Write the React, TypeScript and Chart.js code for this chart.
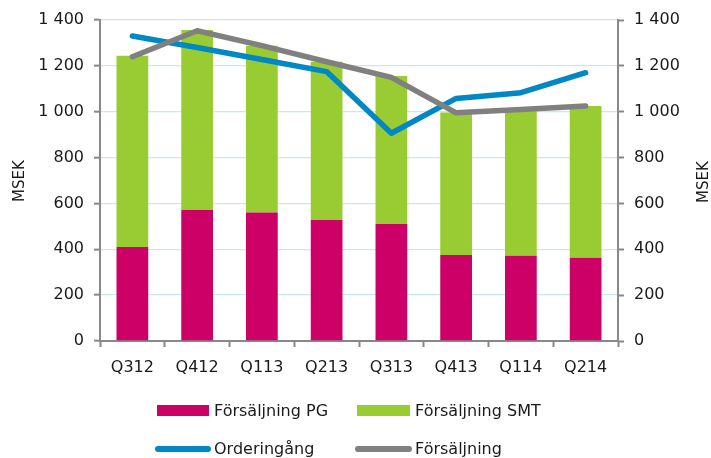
import React, { useEffect, useRef } from "react";
import { Chart, registerables } from "chart.js";

Chart.register(...registerables);

const categories = ["Q312", "Q412", "Q113", "Q213", "Q313", "Q413", "Q114", "Q214"];
const salesPG = [410, 571, 560, 528, 510, 375, 372, 363];
const salesSMT = [834, 785, 728, 690, 646, 622, 638, 662];
const orderIntake = [1330, 1280, 1228, 1175, 906, 1058, 1083, 1170];
const salesTotal = [1240, 1353, 1288, 1218, 1150, 995, 1010, 1025];

const FONT = "'DejaVu Sans', sans-serif";
const C_PG = "#cc0066";
const C_SMT = "#99cc33";
const C_ORDER = "#0088c4";
const C_SALES = "#808080";
const AXIS = "#888888";
const GRID = "#c8e8f6";

const fmt = (v: number) => {
  const s = String(Math.round(v));
  return s.length > 3 ? s.slice(0, s.length - 3) + " " + s.slice(-3) : s;
};

export default function App() {
  const ref = useRef<HTMLCanvasElement | null>(null);

  useEffect(() => {
    if (!ref.current) return;
    const chart = new Chart(ref.current, {
      type: "bar",
      data: {
        labels: categories,
        datasets: [
          {
            type: "line",
            label: "Orderingång",
            data: orderIntake,
            borderColor: C_ORDER,
            backgroundColor: C_ORDER,
            borderWidth: 5.5,
            pointRadius: 0,
            borderCapStyle: "round",
            borderJoinStyle: "round",
            tension: 0,
            yAxisID: "y2",
            order: 1,
          } as any,
          {
            type: "line",
            label: "Försäljning",
            data: salesTotal,
            borderColor: C_SALES,
            backgroundColor: C_SALES,
            borderWidth: 5.5,
            pointRadius: 0,
            borderCapStyle: "round",
            borderJoinStyle: "round",
            tension: 0,
            yAxisID: "y2",
            order: 0,
          } as any,
          {
            type: "bar",
            label: "Försäljning PG",
            data: salesPG,
            backgroundColor: C_PG,
            stack: "s",
            barPercentage: 0.49,
            categoryPercentage: 1,
            yAxisID: "y",
            order: 2,
          },
          {
            type: "bar",
            label: "Försäljning SMT",
            data: salesSMT,
            backgroundColor: C_SMT,
            stack: "s",
            barPercentage: 0.49,
            categoryPercentage: 1,
            yAxisID: "y",
            order: 3,
          },
        ],
      },
      options: {
        animation: false,
        responsive: false,
        maintainAspectRatio: false,
        layout: { padding: { left: 4, right: 0, top: 20, bottom: 77 } },
        plugins: {
          legend: { display: false },
          tooltip: { enabled: false },
        },
        scales: {
          x: {
            stacked: true,
            offset: true,
            grid: {
              offset: true,
              drawOnChartArea: false,
              tickColor: AXIS,
              tickLength: 6,
              tickWidth: 2,
            },
            border: { color: AXIS, width: 2 },
            ticks: { color: "#1a1a1a", font: { family: FONT, size: 16 }, padding: 11 },
            afterFit: (s: any) => {
              s.height = 40;
            },
          },
          y: {
            stacked: true,
            position: "left",
            min: 0,
            max: 1400,
            ticks: {
              stepSize: 200,
              color: "#1a1a1a",
              font: { family: FONT, size: 16 },
              padding: 10,
              callback: (v: any) => fmt(Number(v)),
            },
            grid: { color: GRID, lineWidth: 1.3, tickColor: AXIS, tickLength: 6, tickWidth: 2 },
            border: { color: AXIS, width: 2 },
            afterFit: (s: any) => {
              s.width = 96;
            },
          },
          y2: {
            stacked: false,
            position: "right",
            min: 0,
            max: 1400,
            ticks: {
              stepSize: 200,
              color: "#1a1a1a",
              font: { family: FONT, size: 16 },
              padding: 10,
              callback: (v: any) => fmt(Number(v)),
            },
            grid: { drawOnChartArea: false, tickColor: AXIS, tickLength: 6, tickWidth: 2 },
            border: { color: AXIS, width: 2 },
            afterFit: (s: any) => {
              s.width = 93;
            },
          },
        },
      },
    });
    return () => chart.destroy();
  }, []);

  const txt: React.CSSProperties = {
    position: "absolute",
    fontFamily: FONT,
    fontSize: 16,
    color: "#1a1a1a",
    lineHeight: "18px",
    whiteSpace: "nowrap",
  };

  const vtitle = (cx: number, cy: number): React.CSSProperties => ({
    position: "absolute",
    left: cx - 30,
    top: cy - 9,
    width: 60,
    height: 18,
    lineHeight: "18px",
    textAlign: "center",
    fontFamily: FONT,
    fontSize: 15,
    color: "#1a1a1a",
    transform: "rotate(-90deg)",
    transformOrigin: "50% 50%",
    whiteSpace: "nowrap",
  });

  return (
    <div style={{ position: "fixed", left: 0, top: 0, width: 711, height: 458, overflow: "hidden", background: "#fff" }}>
      <canvas ref={ref} width={711} height={458} style={{ width: 711, height: 458, display: "block" }} />
      <div style={vtitle(18.5, 181)}>MSEK</div>
      <div style={vtitle(703, 182)}>MSEK</div>
      <div style={{ position: "absolute", left: 157, top: 405, width: 52, height: 11, background: C_PG }} />
      <div style={{ ...txt, left: 214, top: 402 }}>Försäljning PG</div>
      <div style={{ position: "absolute", left: 357, top: 405, width: 53, height: 11, background: C_SMT }} />
      <div style={{ ...txt, left: 415, top: 402 }}>Försäljning SMT</div>
      <div style={{ position: "absolute", left: 155, top: 446, width: 56, height: 6, borderRadius: 3, background: C_ORDER }} />
      <div style={{ ...txt, left: 214, top: 440 }}>Orderingång</div>
      <div style={{ position: "absolute", left: 355, top: 446, width: 57, height: 6, borderRadius: 3, background: C_SALES }} />
      <div style={{ ...txt, left: 415, top: 440 }}>Försäljning</div>
    </div>
  );
}
